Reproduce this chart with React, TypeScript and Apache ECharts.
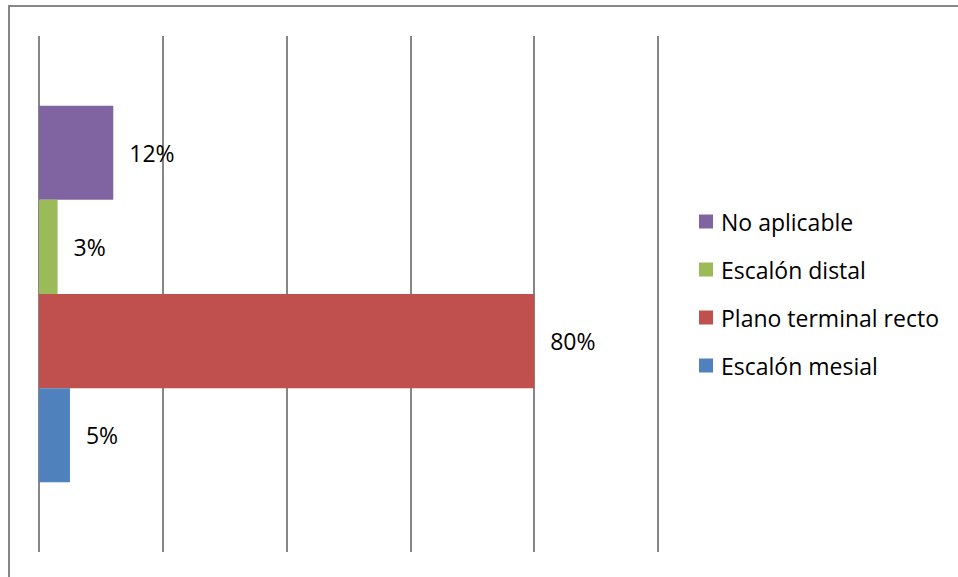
import React, { useEffect, useRef } from "react";
import * as echarts from "echarts";

const categories = ["Distribución"];
const seriesNames = ["No aplicable", "Escalón distal", "Plano terminal recto", "Escalón mesial"];
const seriesValues = [12, 3, 80, 5];
const seriesColors = ["#8064A2", "#9BBB59", "#C0504D", "#4F81BD"];
const legendOrder = ["No aplicable", "Escalón distal", "Plano terminal recto", "Escalón mesial"];

const FONT = "'Open Sans', 'Liberation Sans', sans-serif";

export default function App() {
  const ref = useRef<HTMLDivElement>(null);
  useEffect(() => {
    if (!ref.current) return;
    const chart = echarts.init(ref.current, null, { renderer: "svg" });
    chart.setOption({
      animation: false,
      backgroundColor: "#ffffff",
      graphic: [
        {
          type: "rect",
          shape: { x: 9, y: 6, width: 1000, height: 1000 },
          style: { fill: "none", stroke: "#868686", lineWidth: 2 },
          silent: true,
        },
      ],
      grid: { left: 39, right: 300, top: 36, bottom: 25, containLabel: false },
      xAxis: {
        type: "value",
        min: 0,
        max: 100,
        interval: 20,
        axisLine: { show: false },
        axisTick: { show: false },
        axisLabel: { show: false },
        splitLine: { show: true, lineStyle: { color: "#868686", width: 2 } },
      },
      yAxis: {
        type: "category",
        data: categories,
        axisLine: { show: false },
        axisTick: { show: false },
        axisLabel: { show: false },
        splitLine: { show: false },
      },
      legend: {
        orient: "vertical",
        left: 699,
        top: 210,
        padding: 0,
        itemWidth: 14,
        itemHeight: 14,
        itemGap: 25,
        icon: "rect",
        data: legendOrder,
        textStyle: {
          fontFamily: FONT,
          fontSize: 23,
          lineHeight: 23,
          color: "#000000",
          padding: [0, 0, 0, 3],
        },
      },
      series: seriesNames.map((name, i) => ({
        name,
        type: "bar",
        data: [seriesValues[i]],
        barGap: "0%",
        barCategoryGap: "27%",
        itemStyle: { color: seriesColors[i] },
        label: {
          show: true,
          position: "right",
          distance: 16,
          formatter: (p: any) => `${p.value}%`,
          fontFamily: FONT,
          fontSize: 23,
          color: "#000000",
        },
      })),
    });
    return () => chart.dispose();
  }, []);
  return (
    <div
      ref={ref}
      style={{ position: "fixed", left: 0, top: 0, width: 958, height: 577 }}
    />
  );
}
